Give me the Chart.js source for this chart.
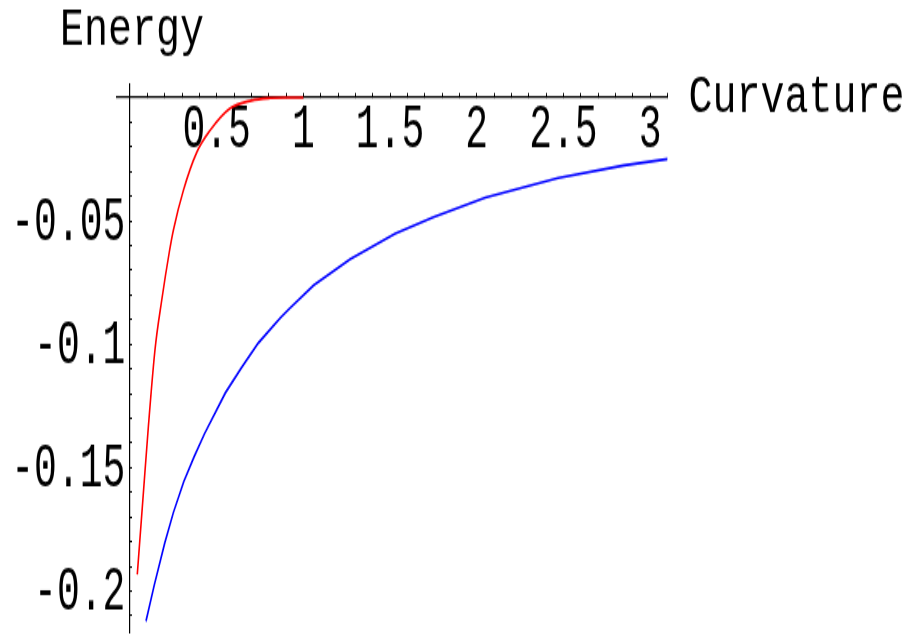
<!DOCTYPE html>
<html>
<head>
<meta charset="utf-8">
<script src="https://cdn.jsdelivr.net/npm/chart.js@4/dist/chart.umd.min.js"></script>
<style>
html { overflow: hidden; background: #fff; }
body { margin: 0; padding: 0; width: 907px; height: 635px; background: #fff; }
/* the original picture is stretched vertically, so draw flat and stretch */
#wrap { width: 907px; height: 397px; transform: scaleY(1.5995); transform-origin: 0 0; }
</style>
</head>
<body>
<div id="wrap"><canvas id="energyChart" width="907" height="397"></canvas></div>
<script>
const xTitle = 'Curvature';
const yTitle = 'Energy';

// red curve
const redCurvature = [0.042, 0.077, 0.106, 0.144, 0.183, 0.227, 0.25, 0.308, 0.385, 0.462, 0.577, 0.70, 0.81, 0.9, 1.0];
const redEnergy = [-0.1933, -0.1603, -0.1333, -0.1023, -0.0821, -0.0625, -0.0538, -0.0376, -0.0222, -0.0133, -0.0044, -0.0012, -0.0002, 0, 0];

// blue curve
const blueCurvature = [0.092, 0.14, 0.2, 0.25, 0.31, 0.37, 0.43, 0.55, 0.64, 0.74, 0.87, 0.92, 1.06, 1.27, 1.53, 1.75, 2.05, 2.47, 2.85, 3.11];
const blueEnergy = [-0.2122, -0.1975, -0.1806, -0.1682, -0.1556, -0.1455, -0.1362, -0.1197, -0.1098, -0.0995, -0.0891, -0.0855, -0.0760, -0.0655, -0.0551, -0.0484, -0.0405, -0.0326, -0.0275, -0.0248];

// tick marks and labels
const xTickValues = [0.1, 0.2, 0.3, 0.4, 0.5, 0.6, 0.7, 0.8, 0.9, 1.0, 1.1, 1.2, 1.3, 1.4, 1.5, 1.6, 1.7, 1.8, 1.9, 2.0,
                     2.1, 2.2, 2.3, 2.4, 2.5, 2.6, 2.7, 2.8, 2.9, 3.0, 3.1];
const xMajor = [0.5, 1, 1.5, 2, 2.5, 3];
const xLabels = ['0.5', '1', '1.5', '2', '2.5', '3'];

const yTickValues = [-0.01, -0.02, -0.03, -0.04, -0.05, -0.06, -0.07, -0.08, -0.09, -0.1, -0.11, -0.12, -0.13, -0.14,
                     -0.15, -0.16, -0.17, -0.18, -0.19, -0.2, -0.21];
const yMajor = [-0.05, -0.1, -0.15, -0.2];
const yLabels = ['-0.05', '-0.1', '-0.15', '-0.2'];

const fontFamily = '"Liberation Mono", "Courier New", monospace';
const yMin = -0.2165, yMax = 0.0055;

function labelFor(value, majors, labels) {
    const i = majors.findIndex(m => Math.abs(m - value) < 1e-9);
    return i >= 0 ? labels[i] : '';
}

function toPoints(xs, ys) {
    return xs.map((x, i) => ({ x: x, y: ys[i] }));
}

// empty labels still reserve half a line at the ends, drop that
function noEndPadding(scale) {
    scale.paddingTop = 0;
    scale.paddingBottom = 0;
    scale.paddingLeft = 0;
    scale.paddingRight = 0;
}

// axis titles placed next to the axes, like the original
const axisTitles = {
    id: 'axisTitles',
    afterDraw(chart) {
        const ctx = chart.ctx;
        const xs = chart.scales.x;
        const ys = chart.scales.y;
        const put = (text, x, y) => {
            ctx.save();
            ctx.translate(x, y);
            ctx.scale(1, 0.84);
            ctx.fillText(text, 0, 0);
            ctx.restore();
        };
        ctx.save();
        ctx.fillStyle = '#000';
        ctx.font = '40px ' + fontFamily;
        ctx.textAlign = 'left';
        ctx.textBaseline = 'alphabetic';
        put(yTitle, xs.getPixelForValue(0) - 70, chart.chartArea.top - 24.4);
        put(xTitle, xs.right + 21, ys.getPixelForValue(0) + 9.1);
        ctx.restore();
    }
};

new Chart(document.getElementById('energyChart'), {
    type: 'line',
    data: {
        datasets: [{
            data: toPoints(redCurvature, redEnergy),
            borderColor: '#ff0000',
            borderWidth: 1.6,
            pointRadius: 0,
            cubicInterpolationMode: 'monotone',
            fill: false
        }, {
            data: toPoints(blueCurvature, blueEnergy),
            borderColor: '#0000ff',
            borderWidth: 1.6,
            pointRadius: 0,
            tension: 0,
            fill: false
        }]
    },
    options: {
        responsive: false,
        animation: false,
        devicePixelRatio: 1,
        layout: { padding: { left: 117, right: 239.6, top: 52.5, bottom: 2 } },
        plugins: { legend: { display: false }, tooltip: { enabled: false } },
        scales: {
            x: {
                type: 'linear',
                min: -0.075,
                max: 3.1,
                position: { y: 0 },
                afterBuildTicks: scale => { scale.ticks = xTickValues.map(v => ({ value: v })); },
                afterFit: noEndPadding,
                ticks: {
                    autoSkip: false,
                    maxRotation: 0,
                    minRotation: 0,
                    padding: 1.5,
                    color: '#000',
                    font: { family: fontFamily, size: 38 },
                    callback: v => labelFor(v, xMajor, xLabels)
                },
                grid: { drawOnChartArea: false, drawTicks: true, tickLength: -3, color: '#000', lineWidth: 1 },
                border: { display: true, color: '#000', width: 1.2 }
            },
            y: {
                type: 'linear',
                min: yMin,
                max: yMax,
                position: { x: 0 },
                afterBuildTicks: scale => { scale.ticks = yTickValues.map(v => ({ value: v })); },
                afterFit: noEndPadding,
                ticks: {
                    autoSkip: false,
                    color: '#000',
                    font: { family: fontFamily, size: 38 },
                    callback: () => ''
                },
                grid: { drawOnChartArea: false, drawTicks: true, tickLength: -3, color: '#000', lineWidth: 1 },
                border: { display: true, color: '#000', width: 1.2 }
            },
            // labels only, set a little left of the y axis line
            yLabelsAxis: {
                type: 'linear',
                axis: 'y',
                min: yMin,
                max: yMax,
                position: { x: -0.027 },
                afterBuildTicks: scale => { scale.ticks = yMajor.map(v => ({ value: v })); },
                afterFit: noEndPadding,
                ticks: {
                    autoSkip: false,
                    padding: 0,
                    labelOffset: 1.8,
                    color: '#000',
                    font: { family: fontFamily, size: 38 },
                    callback: v => labelFor(v, yMajor, yLabels)
                },
                grid: { display: false, drawTicks: false, tickLength: 0 },
                border: { display: false }
            }
        }
    },
    plugins: [axisTitles]
});
</script>
</body>
</html>
